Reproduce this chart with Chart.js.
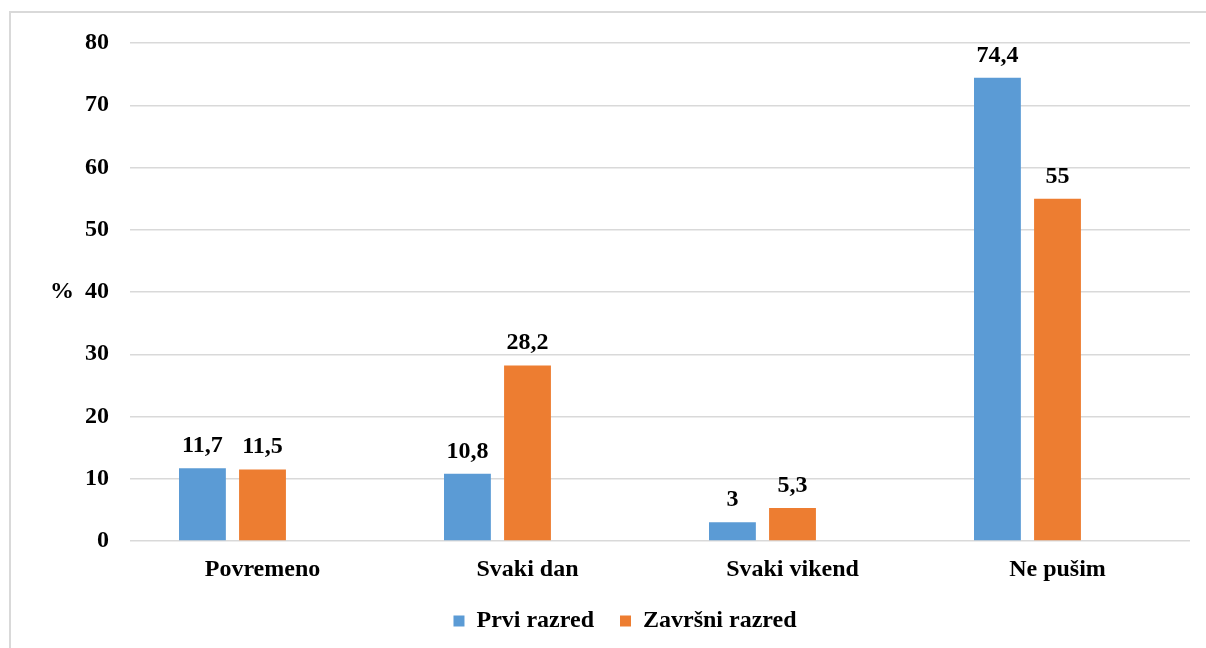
<!DOCTYPE html>
<html>
<head>
<meta charset="utf-8">
<script src="https://cdn.jsdelivr.net/npm/chart.js@4.4.1/dist/chart.umd.min.js"></script>
<style>
    html, body { margin: 0; padding: 0; background: #fff; }
    body { width: 1206px; height: 648px; overflow: hidden; position: relative; }
    #frame {
        position: absolute; left: 9px; top: 11px; width: 1210px; height: 650px;
        border: 2px solid #d9d9d9; box-sizing: border-box;
    }
    #wrap { position: absolute; left: 0; top: 0; width: 1206px; height: 648px; }
</style>
</head>
<body>
<div id="frame"></div>
<div id="wrap"><canvas id="pusenjeChart"></canvas></div>
<script>
// Pušenje po razredima (%)
const categories = ['Povremeno', 'Svaki dan', 'Svaki vikend', 'Ne pušim'];
const prviRazred = [11.7, 10.8, 3, 74.4];
const zavrsniRazred = [11.5, 28.2, 5.3, 55];
const yTicks = [0, 10, 20, 30, 40, 50, 60, 70, 80];

const fontFamily = '"Liberation Serif", "Times New Roman", serif';
const blue = '#5B9BD5';
const orange = '#ED7D31';

function formatValue(v) {
    return String(v).replace('.', ',');
}

// value labels above bars + the "%" axis title
const labelsPlugin = {
    id: 'valueLabels',
    afterDatasetsDraw(chart) {
        const ctx = chart.ctx;
        ctx.save();
        ctx.font = 'bold 24px ' + fontFamily;
        ctx.fillStyle = '#000';
        ctx.textAlign = 'center';
        ctx.textBaseline = 'alphabetic';
        chart.data.datasets.forEach((ds, i) => {
            if (i > 1) return;
            const meta = chart.getDatasetMeta(i);
            meta.data.forEach((bar, j) => {
                const v = ds.data[j];
                if (v === null) return;
                ctx.fillText(formatValue(v), bar.x, bar.y - 16);
            });
        });
        const yScale = chart.scales.y;
        ctx.textBaseline = 'middle';
        ctx.fillText('%', 62, yScale.getPixelForValue(40));
        ctx.restore();
    }
};

new Chart(document.getElementById('pusenjeChart'), {
    type: 'bar',
    data: {
        labels: categories,
        datasets: [
            { label: 'Prvi razred', data: prviRazred, backgroundColor: blue },
            { label: 'Završni razred', data: zavrsniRazred, backgroundColor: orange },
            { label: '', data: categories.map(() => null), backgroundColor: 'rgba(0,0,0,0)' }
        ]
    },
    options: {
        responsive: true,
        maintainAspectRatio: false,
        animation: false,
        categoryPercentage: 0.68,
        barPercentage: 0.78,
        layout: { padding: { left: 60, right: 16, top: 43, bottom: 5 } },
        plugins: {
            legend: {
                position: 'bottom',
                labels: {
                    filter: item => item.datasetIndex < 2,
                    boxWidth: 11,
                    boxHeight: 11,
                    padding: 26,
                    color: '#000',
                    font: { family: fontFamily, size: 24, weight: 'bold' }
                }
            },
            tooltip: { enabled: false }
        },
        scales: {
            x: {
                grid: { display: false, drawTicks: false },
                border: { display: false },
                afterFit: scale => { scale.height = 42; },
                ticks: {
                    color: '#000',
                    padding: 14,
                    font: { family: fontFamily, size: 24, weight: 'bold' }
                }
            },
            y: {
                min: 0,
                max: 80,
                afterFit: scale => { scale.width = 70; },
                afterBuildTicks: scale => { scale.ticks = yTicks.map(v => ({ value: v })); },
                grid: { color: '#d9d9d9', lineWidth: 1.5, drawTicks: false },
                border: { display: false },
                ticks: {
                    color: '#000',
                    padding: 21,
                    font: { family: fontFamily, size: 24, weight: 'bold' }
                }
            }
        }
    },
    plugins: [labelsPlugin]
});
</script>
</body>
</html>
